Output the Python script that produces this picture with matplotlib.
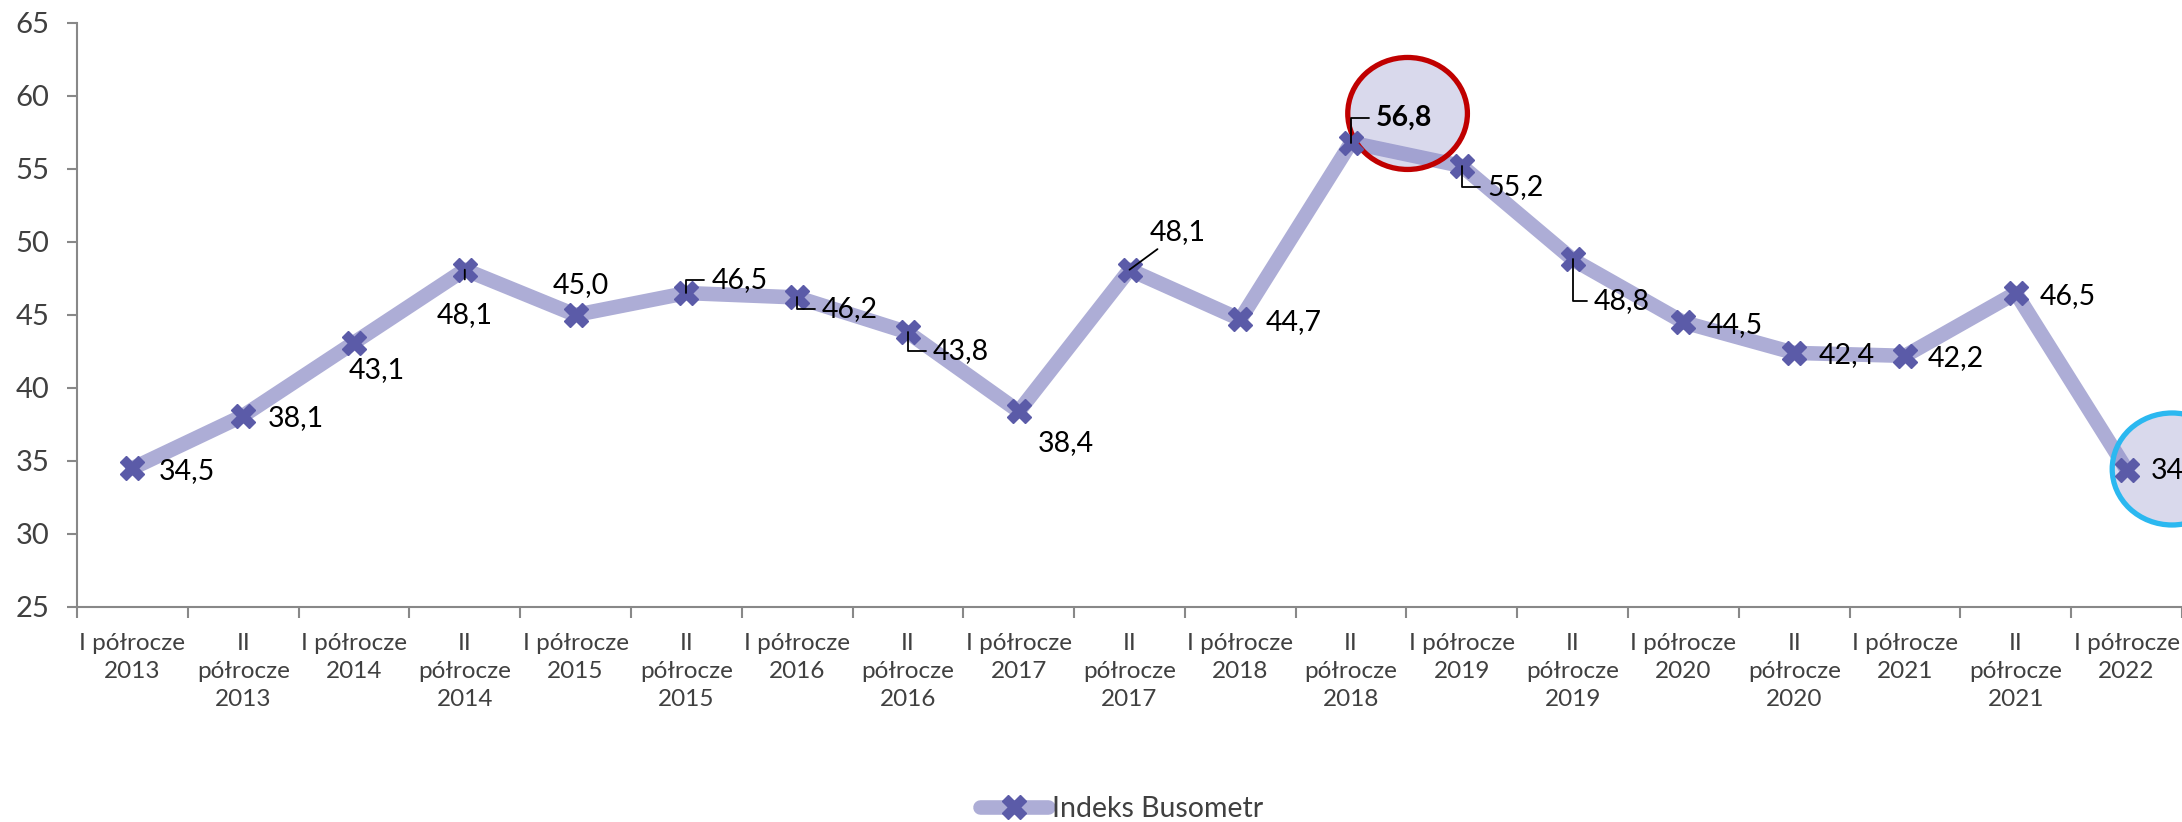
import matplotlib.pyplot as plt
from matplotlib.patches import Ellipse
from matplotlib.lines import Line2D

plt.rcParams['font.family'] = ['Lato', 'DejaVu Sans']

periods = ['I półrocze\n2013', 'II\npółrocze\n2013', 'I półrocze\n2014', 'II\npółrocze\n2014',
           'I półrocze\n2015', 'II\npółrocze\n2015', 'I półrocze\n2016', 'II\npółrocze\n2016',
           'I półrocze\n2017', 'II\npółrocze\n2017', 'I półrocze\n2018', 'II\npółrocze\n2018',
           'I półrocze\n2019', 'II\npółrocze\n2019', 'I półrocze\n2020', 'II\npółrocze\n2020',
           'I półrocze\n2021', 'II\npółrocze\n2021', 'I półrocze\n2022']
busometr = [34.5, 38.1, 43.1, 48.1, 45.0, 46.5, 46.2, 43.8, 38.4, 48.1,
            44.7, 56.8, 55.2, 48.8, 44.5, 42.4, 42.2, 46.5, 34.4]

# label offsets in pixels (dx, dy, ha) and leader style
label_pos = [(26, -3, 'left'), (25, -2, 'left'), (-5, -27, 'left'), (0, -45, 'center'),
             (5, 30, 'center'), (25, 13, 'left'), (25, -12, 'left'), (25, -19, 'left'),
             (19, -32, 'left'), (20, 38, 'left'), (25, -3, 'left'), (25, 25, 'left'),
             (25, -21, 'left'), (21, -42, 'left'), (23, -3, 'left'), (24, -2, 'left'),
             (23, -2, 'left'), (24, -3, 'left'), (24, 0, 'left')]
leaders = {3: 'vert', 5: 'elbow', 6: 'elbow', 7: 'elbow', 9: 'straight',
           11: 'elbow', 12: 'elbow', 13: 'elbow'}

fig = plt.figure(figsize=(21.82, 8.22), dpi=100)
ax = fig.add_axes([0.0353, 0.2616, 0.9647, 0.7105])

x = list(range(len(busometr)))
line_col = '#ADADD6'
mark_col = '#5B5BA8'
ax.plot(x, busometr, color=line_col, lw=10.5, solid_capstyle='round', zorder=2)
ax.plot(x, busometr, ls='none', marker='X', ms=17, color=mark_col, mec=mark_col, zorder=5)

# highlight circles
ax.add_patch(Ellipse((11.51, 58.8), 1.08, 7.67, facecolor=(0.55, 0.55, 0.78, 0.33),
                     edgecolor='#C00000', lw=3.8, zorder=4))
ax.add_patch(Ellipse((18.41, 34.45), 1.08, 7.67, facecolor=(0.55, 0.55, 0.78, 0.33),
                     edgecolor='#2BB8F0', lw=3.8, zorder=4, clip_on=False))

for i, v in enumerate(busometr):
    dx, dy, ha = label_pos[i]
    txt = f'{v:.1f}'.replace('.', ',')
    kw = {}
    style = leaders.get(i)
    if style == 'elbow':
        kw['arrowprops'] = dict(arrowstyle='-', color='black', lw=1.3, shrinkA=3, shrinkB=0,
                                relpos=(0, 0.5),
                                connectionstyle='angle,angleA=0,angleB=90,rad=0')
    elif style == 'vert':
        kw['arrowprops'] = dict(arrowstyle='-', color='black', lw=1.3, shrinkA=14, shrinkB=0,
                                relpos=(0.5, 1))
    elif style == 'straight':
        kw['arrowprops'] = dict(arrowstyle='-', color='black', lw=1.3, shrinkA=2, shrinkB=0,
                                relpos=(0.25, 0))
    ax.annotate(txt, (i, v), xytext=(dx, dy), textcoords='offset pixels',
                ha=ha, va='center', fontsize=20.5, color='black',
                fontweight='bold' if i == 11 else 'normal', zorder=6, **kw)

ax.set_xlim(-0.5, len(busometr) - 0.5)
ax.set_ylim(25, 65)
ax.set_yticks(range(25, 66, 5))
ax.set_xticks(x)
ax.set_xticklabels(periods, fontsize=17.5, color='#404040', linespacing=1.4)
ax.set_xticks([i - 0.5 for i in range(len(busometr) + 1)], minor=True)
ax.tick_params(axis='x', which='major', length=0, pad=19)
ax.tick_params(axis='x', which='minor', length=8, width=1.5, color='#888888')
ax.tick_params(axis='y', length=7, width=1.5, color='#888888', labelsize=21,
               labelcolor='#404040', pad=13)

for s in ['top', 'right']:
    ax.spines[s].set_visible(False)
for s in ['left', 'bottom']:
    ax.spines[s].set_color('#888888')
    ax.spines[s].set_linewidth(1.5)

handle = Line2D([], [], color=line_col, lw=10.5, solid_capstyle='round',
                marker='X', ms=17, mfc=mark_col, mec=mark_col)
leg = fig.legend([handle], ['Indeks Busometr'], loc='center', bbox_to_anchor=(0.514, 0.016),
                 frameon=False, fontsize=20.5, handlelength=2.4, handletextpad=0.15)
for t in leg.get_texts():
    t.set_color('#404040')

fig.savefig('out.png', dpi=100)
